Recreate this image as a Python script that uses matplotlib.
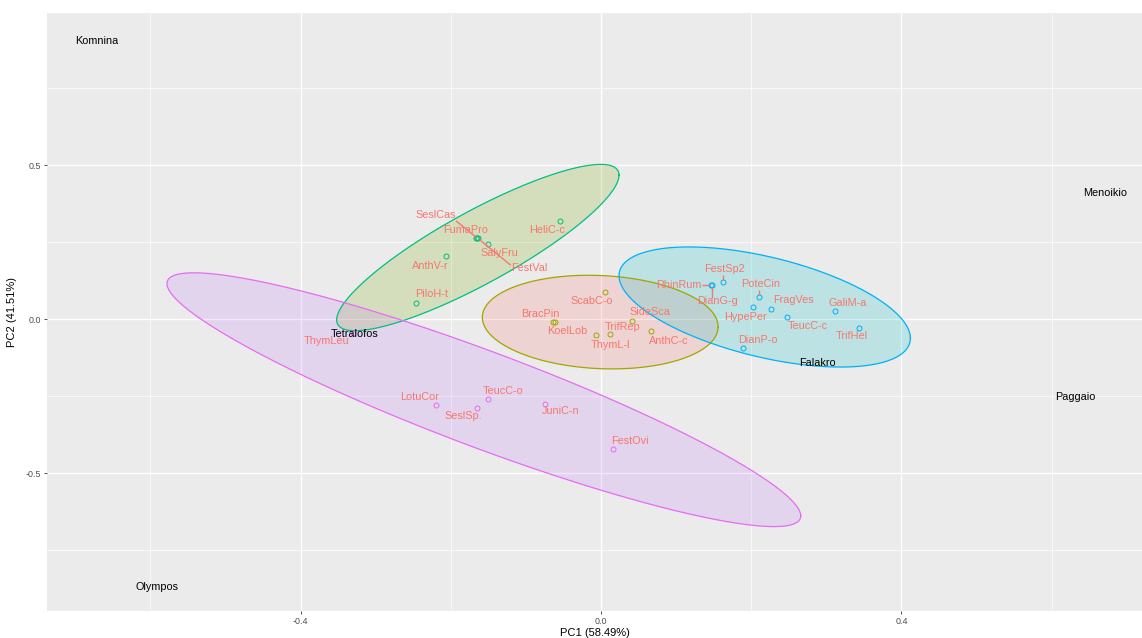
# PCA biplot: species scores with group ellipses and site names

import numpy as np
import matplotlib
matplotlib.use("Agg")
import matplotlib.pyplot as plt

plt.rcParams["font.family"] = ["Liberation Sans", "DejaVu Sans"]

# species scores (PC1, PC2) and the group each belongs to
species = ["SeslCas", "FumaPro", "FestVal", "SalyFru", "HeliC-c", "AnthV-r", "PiloH-t",
           "ScabC-o", "BracPin", "KoelLob", "SideSca", "TrifRep", "ThymL-l", "AnthC-c",
           "FestSp2", "RhinRum", "DianG-g", "PoteCin", "FragVes", "HypePer", "GaliM-a",
           "TeucC-c", "TrifHel", "DianP-o",
           "LotuCor", "SeslSp.", "TeucC-o", "JuniC-n", "FestOvi", "ThymLeu"]
pc1 = [-0.165, -0.166, -0.164, -0.151, -0.055, -0.206, -0.246,
       0.005, -0.064, -0.061, 0.041, 0.012, -0.006, 0.067,
       0.163, 0.147, 0.148, 0.210, 0.227, 0.203, 0.311,
       0.248, 0.343, 0.189,
       -0.220, -0.165, -0.150, -0.074, 0.016, -0.330]
pc2 = [0.263, 0.264, 0.262, 0.243, 0.317, 0.204, 0.051,
       0.087, -0.011, -0.011, -0.008, -0.049, -0.052, -0.039,
       0.119, 0.109, 0.109, 0.071, 0.033, 0.039, 0.025,
       0.006, -0.028, -0.094,
       -0.280, -0.289, -0.261, -0.275, -0.421, -0.047]
group = [0] * 7 + [1] * 7 + [2] * 10 + [3] * 6

# where the (repelled) labels ended up
lab_x = [-0.220, -0.181, -0.096, -0.135, -0.072, -0.228, -0.226,
         -0.013, -0.081, -0.045, 0.065, 0.029, 0.012, 0.090,
         0.165, 0.104, 0.155, 0.213, 0.256, 0.193, 0.329,
         0.275, 0.334, 0.209,
         -0.241, -0.184, -0.130, -0.054, 0.039, -0.365]
lab_y = [0.338, 0.290, 0.165, 0.214, 0.290, 0.172, 0.080,
         0.059, 0.015, -0.038, 0.023, -0.025, -0.085, -0.071,
         0.162, 0.110, 0.059, 0.114, 0.061, 0.007, 0.051,
         -0.023, -0.055, -0.067,
         -0.253, -0.314, -0.234, -0.300, -0.397, -0.071]
with_segment = ["SeslCas", "FestVal", "FestSp2", "RhinRum", "DianG-g", "PoteCin"]

# site scores
sites = ["Komnina", "Menoikio", "Paggaio", "Olympos", "Tetralofos", "Falakro"]
site_x = [-0.671, 0.671, 0.631, -0.591, -0.328, 0.288]
site_y = [0.903, 0.409, -0.253, -0.870, -0.049, -0.143]

# group ellipses: centre, half extent in x / y, correlation
ell_cx = [-0.164, -0.001, 0.218, -0.156]
ell_cy = [0.232, -0.010, 0.039, -0.262]
ell_wx = [0.188, 0.157, 0.194, 0.422]
ell_wy = [0.270, 0.152, 0.195, 0.412]
ell_rho = [0.87, -0.10, -0.52, -0.915]

line_col = ["#00BF7D", "#A3A500", "#00B0F6", "#E76BF3"]
fill_col = ["#7CAE00", "#F8766D", "#00BFC4", "#C77CFF"]
LABEL = "#F8766D"


def segment_from_box(ax, txt, x, y, renderer):
    # ggrepel style: from the nearest spot on the label box to the point
    box = txt.get_window_extent(renderer)
    px, py = ax.transData.transform((x, y))
    sx = np.clip(px, box.x0, box.x1)
    sy = np.clip(py, box.y0 - 1, box.y1 - 2)
    dx, dy = px - sx, py - sy
    L = np.hypot(dx, dy)
    if L < 4:
        return None
    end = (px - 2.0 * dx / L, py - 2.0 * dy / L)
    inv = ax.transData.inverted()
    return inv.transform((sx, sy)), inv.transform(end)


fig = plt.figure(figsize=(11.42, 6.38), dpi=100)
ax = fig.add_axes([47 / 1142, 1 - 611 / 638, 1 - 47 / 1142, (611 - 13) / 638])
ax.set_facecolor("#EBEBEB")
for s in ax.spines.values():
    s.set_visible(False)

ax.set_xlim(-0.7377, 0.7204)
ax.set_ylim(-0.948, 0.9935)
ax.set_xticks([-0.4, 0.0, 0.4])
ax.set_xticklabels(["-0.4", "0.0", "0.4"])
ax.set_yticks([-0.5, 0.0, 0.5])
ax.set_yticklabels(["-0.5", "0.0", "0.5"])
ax.set_xticks([-0.6, -0.2, 0.2, 0.6], minor=True)
ax.set_yticks([-0.75, -0.25, 0.25, 0.75], minor=True)
ax.grid(which="major", color="white", lw=1.0)
ax.grid(which="minor", color="white", lw=0.5)
ax.set_axisbelow(True)
ax.tick_params(which="major", length=2.5, width=0.6, color="#333333",
               labelsize=6.4, labelcolor="#4D4D4D", pad=2)
ax.tick_params(which="minor", length=0)
ax.set_xlabel("PC1 (58.49%)", fontsize=8, labelpad=1)
ax.set_ylabel("PC2 (41.51%)", fontsize=8, labelpad=6)

t = np.linspace(0, 2 * np.pi, 300)
for g in range(len(ell_cx)):
    phi = np.arccos(ell_rho[g])
    ex = ell_cx[g] + ell_wx[g] * np.cos(t)
    ey = ell_cy[g] + ell_wy[g] * np.cos(t + phi)
    ax.fill(ex, ey, color=fill_col[g], alpha=0.2, lw=0, zorder=2)
    ax.plot(ex, ey, color=line_col[g], lw=0.9, zorder=3)

for x, y, g in zip(pc1, pc2, group):
    ax.plot(x, y, "o", ms=3.6, mfc="none", mec=line_col[g], mew=0.7, zorder=4)

labels = []
for name, lx, ly in zip(species, lab_x, lab_y):
    labels.append(ax.text(lx, ly, name, ha="center", va="center", fontsize=7.8,
                          color=LABEL, zorder=5))

for name, x, y in zip(sites, site_x, site_y):
    ax.text(x, y, name, ha="center", va="center", fontsize=7.8, color="black", zorder=6)

fig.canvas.draw()
renderer = fig.canvas.get_renderer()
for name, txt, x, y in zip(species, labels, pc1, pc2):
    if name not in with_segment:
        continue
    seg = segment_from_box(ax, txt, x, y, renderer)
    if seg is None:
        continue
    (x0, y0), (x1, y1) = seg
    ax.plot([x0, x1], [y0, y1], color=LABEL, lw=1.0, zorder=4.5,
            solid_capstyle="butt")

fig.savefig("out.png", dpi=100)
